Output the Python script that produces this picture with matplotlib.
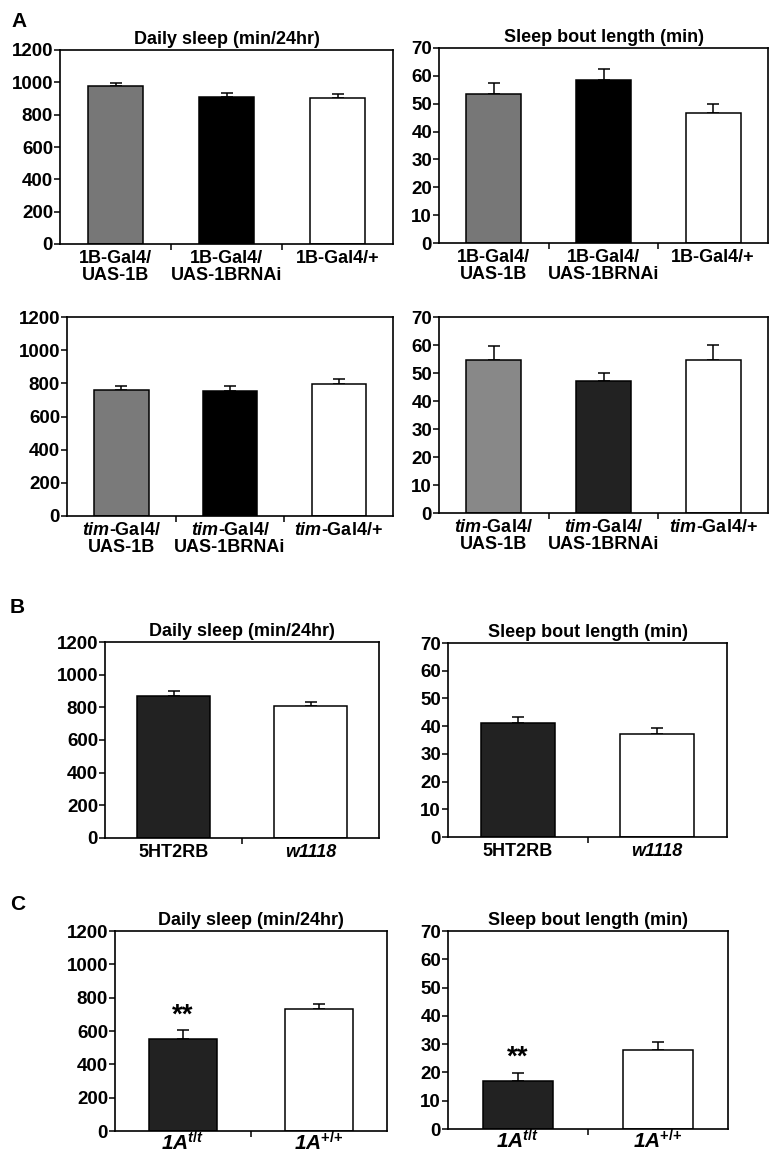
import matplotlib
matplotlib.use('Agg')
import matplotlib.pyplot as plt
import numpy as np

plt.rcParams['font.family'] = ['Liberation Sans', 'DejaVu Sans']
plt.rcParams['font.weight'] = 'bold'
plt.rcParams['mathtext.fontset'] = 'custom'
plt.rcParams['mathtext.rm'] = 'Liberation Sans:bold'
plt.rcParams['mathtext.bf'] = 'Liberation Sans:bold'
plt.rcParams['mathtext.it'] = 'Liberation Sans:italic:bold'

# ---- данные ----
a1_labels = ['1B-Gal4/\nUAS-1B', '1B-Gal4/\nUAS-1BRNAi', '1B-Gal4/+']
a1_sleep = [977, 909, 901]
a1_sleep_err = [17, 23, 25]
a1_bout = [53.5, 58.6, 46.5]
a1_bout_err = [3.9, 3.9, 3.5]

a2_labels = ['$\\mathit{tim}$-Gal4/\nUAS-1B', '$\\mathit{tim}$-Gal4/\nUAS-1BRNAi', '$\\mathit{tim}$-Gal4/+']
a2_sleep = [761, 755, 793]
a2_sleep_err = [24, 30, 34]
a2_bout = [54.8, 47.0, 54.8]
a2_bout_err = [4.9, 3.1, 5.1]

b_labels = ['5HT2RB', 'w1118']
b_sleep = [872, 807]
b_sleep_err = [29, 28]
b_bout = [41.0, 37.2]
b_bout_err = [2.4, 2.2]

c_labels = ['1A$^{t/t}$', '1A$^{{+}/{+}}$']
c_sleep = [554, 732]
c_sleep_err = [50, 28]
c_bout = [16.9, 28.1]
c_bout_err = [3.0, 2.7]
c_signif = ['**', '']

# подписи, набранные целиком курсивом
italic_labels = ['w1118'] + c_labels

W, H = 772, 1158
fig = plt.figure(figsize=(W / 100, H / 100), dpi=100)


def make_ax(l, r, t, b):
    # координаты в пикселях -> доли фигуры
    return fig.add_axes([l / W, 1 - b / H, (r - l) / W, (b - t) / H])


def bars(ax, vals, errs, colors, labels, ymax, ystep, title=None, width=0.5,
         lab_size=13, lab_pad=4, signif=None):
    x = np.arange(len(vals))
    ax.bar(x, vals, width=width, color=colors, edgecolor='black', linewidth=1.1, zorder=2)
    ax.errorbar(x, vals, yerr=[np.zeros(len(errs)), errs], fmt='none', ecolor='black',
                elinewidth=1.1, capsize=4.5, capthick=1.1, zorder=1)
    ax.set_xlim(-0.5, len(vals) - 0.5)
    ax.set_ylim(0, ymax)
    ax.set_yticks(np.arange(0, ymax + 1, ystep))
    ax.set_xticks(x)
    ax.set_xticklabels(labels, fontsize=lab_size, fontweight='bold', linespacing=1.0)
    for lab in ax.get_xticklabels():
        if lab.get_text() in italic_labels:
            lab.set_fontstyle('italic')
    ax.set_xticks(np.arange(0.5, len(vals) - 1, 1.0), minor=True)
    ax.tick_params(axis='x', which='major', length=0, pad=lab_pad)
    ax.tick_params(axis='x', which='minor', length=4, width=1.1, direction='out')
    ax.tick_params(axis='y', length=4, width=1.1, direction='out', labelsize=13.5, pad=1)
    for lab in ax.get_yticklabels():
        lab.set_fontweight('bold')
    for s in ax.spines.values():
        s.set_linewidth(1.2)
    if title:
        ax.set_title(title, fontsize=13, fontweight='bold', pad=4)
    if signif:
        for xi, v, e, s in zip(x, vals, errs, signif):
            if s:
                ax.text(xi, v + e + ymax * 0.01, s, ha='center', va='bottom',
                        fontsize=20, fontweight='bold')


# A, верхний ряд
ax = make_ax(60, 393, 50, 244)
bars(ax, a1_sleep, a1_sleep_err, ['#777777', '#000000', '#ffffff'], a1_labels,
     1200, 200, 'Daily sleep (min/24hr)')
ax = make_ax(439, 768, 48, 243)
bars(ax, a1_bout, a1_bout_err, ['#777777', '#000000', '#ffffff'], a1_labels,
     70, 10, 'Sleep bout length (min)')

# A, нижний ряд
ax = make_ax(67, 393, 317, 516)
bars(ax, a2_sleep, a2_sleep_err, ['#7a7a7a', '#000000', '#ffffff'], a2_labels, 1200, 200)
ax = make_ax(439, 768, 317, 513)
bars(ax, a2_bout, a2_bout_err, ['#888888', '#222222', '#ffffff'], a2_labels, 70, 10)

# B
ax = make_ax(105, 379, 642, 838)
bars(ax, b_sleep, b_sleep_err, ['#222222', '#ffffff'], b_labels, 1200, 200,
     'Daily sleep (min/24hr)', width=0.53)
ax = make_ax(448, 727, 643, 837)
bars(ax, b_bout, b_bout_err, ['#222222', '#ffffff'], b_labels, 70, 10,
     'Sleep bout length (min)', width=0.53)

# C
ax = make_ax(115, 387, 931, 1131)
bars(ax, c_sleep, c_sleep_err, ['#222222', '#ffffff'], c_labels, 1200, 200,
     'Daily sleep (min/24hr)', lab_size=15, lab_pad=0, signif=c_signif)
ax = make_ax(448, 728, 931, 1129)
bars(ax, c_bout, c_bout_err, ['#222222', '#ffffff'], c_labels, 70, 10,
     'Sleep bout length (min)', lab_size=15, lab_pad=0, signif=c_signif)

for letter, px, py in [('A', 11, 12), ('B', 10, 598), ('C', 10, 895)]:
    fig.text(px / W, 1 - py / H, letter, fontsize=15, fontweight='bold', va='top', ha='left')

fig.savefig('out.png', dpi=100)
